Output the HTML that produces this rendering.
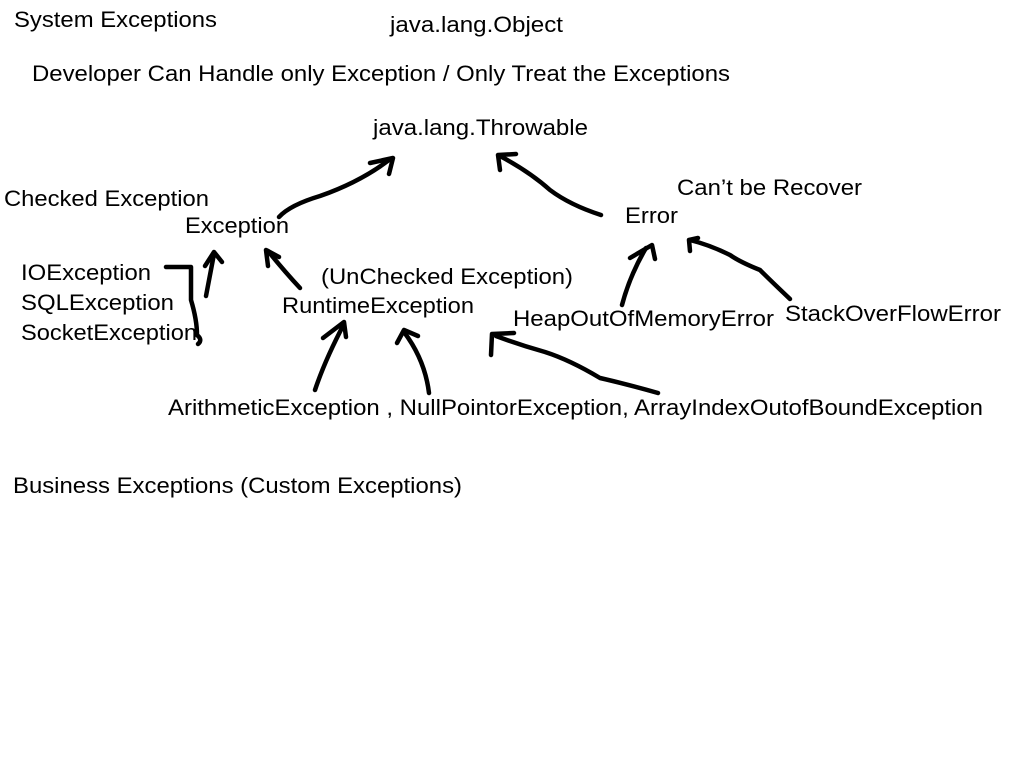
<!DOCTYPE html>
<html><head><meta charset="utf-8"><style>
html,body{margin:0;padding:0;background:#fff;width:1024px;height:768px;overflow:hidden}
svg text{font-family:"Liberation Sans",Helvetica,Arial,sans-serif;font-size:22px;fill:#000}
</style></head><body>
<svg width="1024" height="768" viewBox="0 0 1024 768" xmlns="http://www.w3.org/2000/svg">
<g>
<text x="14" y="27" textLength="203" lengthAdjust="spacingAndGlyphs">System Exceptions</text>
<text x="390" y="32" textLength="173" lengthAdjust="spacingAndGlyphs">java.lang.Object</text>
<text x="32" y="81" textLength="698" lengthAdjust="spacingAndGlyphs">Developer Can Handle only Exception / Only Treat the Exceptions</text>
<text x="373" y="135" textLength="215" lengthAdjust="spacingAndGlyphs">java.lang.Throwable</text>
<text x="4" y="206" textLength="205" lengthAdjust="spacingAndGlyphs">Checked Exception</text>
<text x="185" y="233" textLength="104" lengthAdjust="spacingAndGlyphs">Exception</text>
<text x="677" y="195" textLength="185" lengthAdjust="spacingAndGlyphs">Can’t be Recover</text>
<text x="625" y="223" textLength="53" lengthAdjust="spacingAndGlyphs">Error</text>
<text x="21" y="280" textLength="130" lengthAdjust="spacingAndGlyphs">IOException</text>
<text x="21" y="310" textLength="153" lengthAdjust="spacingAndGlyphs">SQLException</text>
<text x="21" y="340" textLength="176" lengthAdjust="spacingAndGlyphs">SocketException</text>
<text x="321" y="284" textLength="252" lengthAdjust="spacingAndGlyphs">(UnChecked Exception)</text>
<text x="282" y="313" textLength="192" lengthAdjust="spacingAndGlyphs">RuntimeException</text>
<text x="513" y="326" textLength="261" lengthAdjust="spacingAndGlyphs">HeapOutOfMemoryError</text>
<text x="785" y="321" textLength="216" lengthAdjust="spacingAndGlyphs">StackOverFlowError</text>
<text x="168" y="415" textLength="815" lengthAdjust="spacingAndGlyphs">ArithmeticException , NullPointorException, ArrayIndexOutofBoundException</text>
<text x="13" y="493" textLength="449" lengthAdjust="spacingAndGlyphs">Business Exceptions (Custom Exceptions)</text>
</g>
<g fill="none" stroke="#000" stroke-width="4.5" stroke-linecap="round" stroke-linejoin="round">
<path d="M279,217 Q290,205 320,196 Q360,182 389,160"/>
<path d="M370,163 L393,158 L389,174"/>
<path d="M601,215 Q570,205 550,190 Q530,172 500,156"/>
<path d="M500,170 L498,155 L516,154"/>
<path d="M300,288 Q285,272 268,251"/>
<path d="M268,266 L266,250 L279,257"/>
<path d="M166,267 L191,267 L191,300 Q197,320 197,335 Q203,340 198,344"/>
<path d="M206,296 Q210,275 214,254"/>
<path d="M205,266 L214,252 L222,262"/>
<path d="M315,390 Q325,360 344,324"/>
<path d="M323,338 L344,322 L346,337"/>
<path d="M429,393 Q425,360 404,332"/>
<path d="M397,343 L404,330 L418,336"/>
<path d="M658,393 Q630,385 600,378 Q570,360 545,352 Q520,345 496,336"/>
<path d="M491,355 L492,334 L514,333"/>
<path d="M622,305 Q630,275 646,248"/>
<path d="M630,258 L652,245 L655,259"/>
<path d="M790,299 Q770,280 760,270 Q740,262 730,255 Q710,245 690,240"/>
<path d="M690,251 L689,240 L698,238"/>
</g>
</svg>
</body></html>
